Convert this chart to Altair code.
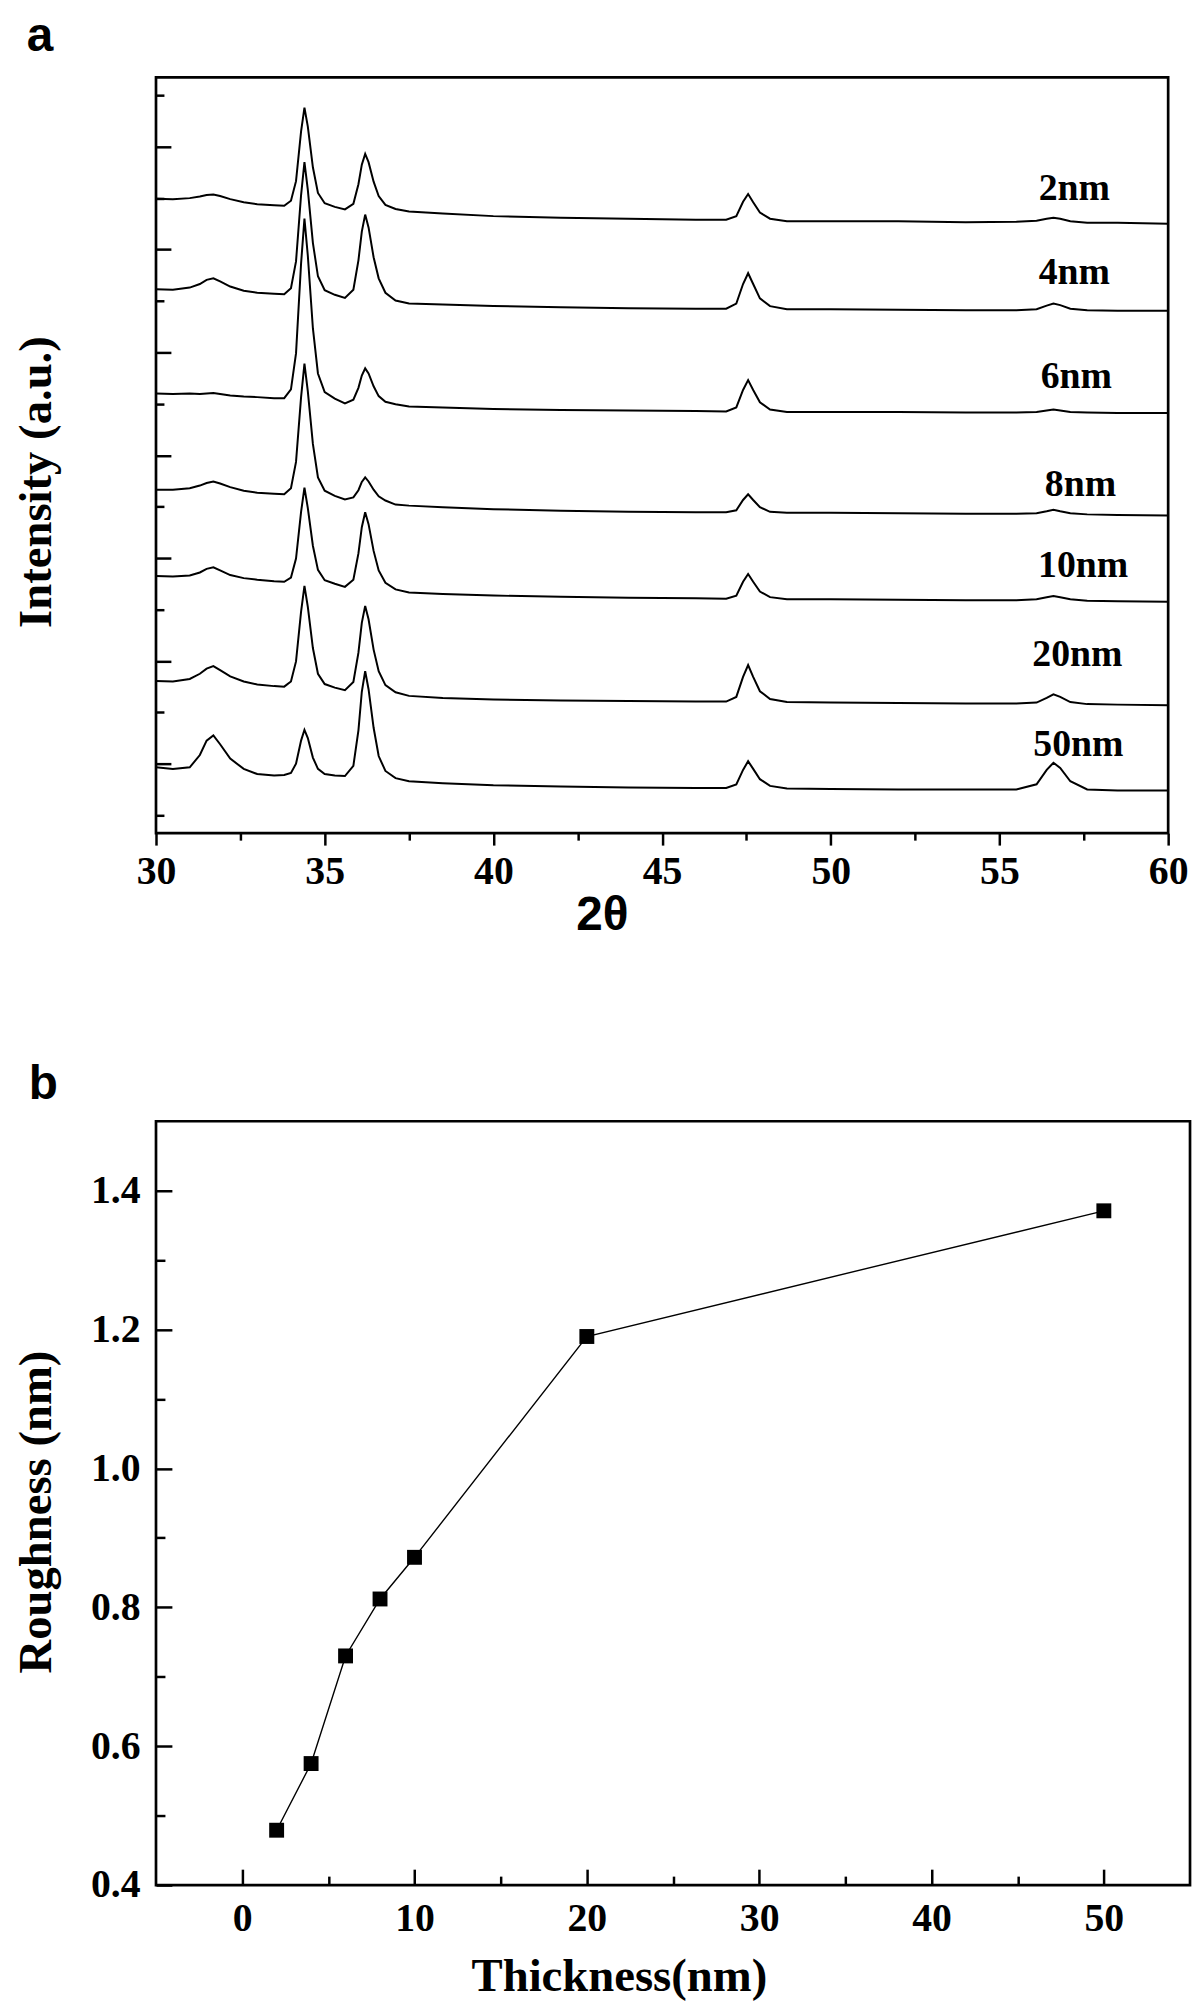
import altair as alt
import pandas as pd

# ---------------- Panel a : XRD patterns ----------------
two_theta = [30.0, 30.5, 31.0, 31.3, 31.5, 31.7, 31.9, 32.2, 32.6, 33.0,
             33.5, 33.8, 34.0, 34.15, 34.3, 34.4, 34.5, 34.65, 34.8, 35.0,
             35.3, 35.6, 35.85, 36.0, 36.1, 36.2, 36.3, 36.45, 36.6, 36.8,
             37.1, 37.5, 38.5, 40.0, 42.0, 44.0, 46.0, 46.9, 47.2, 47.4,
             47.55, 47.7, 47.9, 48.2, 48.7, 50.0, 52.0, 54.0, 55.5, 56.1,
             56.4, 56.6, 56.8, 57.1, 57.6, 58.5, 60.0]

samples = ["2nm", "4nm", "6nm", "8nm", "10nm", "20nm", "50nm"]

i_2nm = [11.99, 11.98, 12.00, 12.03, 12.06, 12.07, 12.04, 11.98, 11.92, 11.88,
         11.86, 11.85, 11.95, 12.33, 13.30, 13.76, 13.39, 12.60, 12.10, 11.90,
         11.83, 11.78, 11.89, 12.27, 12.65, 12.86, 12.70, 12.32, 12.04, 11.87,
         11.79, 11.74, 11.70, 11.65, 11.62, 11.60, 11.58, 11.58, 11.65, 11.93,
         12.08, 11.92, 11.72, 11.60, 11.55, 11.55, 11.55, 11.53, 11.54, 11.56,
         11.60, 11.62, 11.60, 11.55, 11.52, 11.52, 11.50]
i_4nm = [10.23, 10.22, 10.26, 10.33, 10.41, 10.44, 10.38, 10.28, 10.20, 10.16,
         10.14, 10.13, 10.25, 10.77, 12.06, 12.70, 12.16, 11.13, 10.48, 10.21,
         10.12, 10.06, 10.22, 10.79, 11.35, 11.68, 11.43, 10.85, 10.44, 10.16,
         10.01, 9.95, 9.93, 9.90, 9.88, 9.86, 9.85, 9.85, 9.95, 10.33,
         10.54, 10.33, 10.05, 9.90, 9.84, 9.84, 9.83, 9.82, 9.82, 9.84,
         9.91, 9.95, 9.92, 9.85, 9.82, 9.81, 9.81]
i_6nm = [8.20, 8.19, 8.20, 8.19, 8.20, 8.21, 8.19, 8.16, 8.14, 8.13,
         8.11, 8.11, 8.28, 8.98, 10.73, 11.60, 10.88, 9.47, 8.59, 8.23,
         8.10, 8.01, 8.08, 8.31, 8.55, 8.69, 8.59, 8.34, 8.15, 8.04,
         7.99, 7.95, 7.93, 7.90, 7.88, 7.87, 7.86, 7.85, 7.93, 8.27,
         8.46, 8.27, 8.03, 7.89, 7.84, 7.84, 7.84, 7.83, 7.83, 7.84,
         7.87, 7.89, 7.87, 7.84, 7.83, 7.82, 7.82]
i_8nm = [6.33, 6.33, 6.36, 6.41, 6.46, 6.49, 6.45, 6.38, 6.31, 6.27,
         6.25, 6.24, 6.36, 6.87, 8.13, 8.78, 8.24, 7.22, 6.57, 6.31,
         6.21, 6.14, 6.18, 6.32, 6.48, 6.57, 6.49, 6.33, 6.20, 6.12,
         6.04, 6.02, 5.99, 5.95, 5.92, 5.90, 5.89, 5.89, 5.93, 6.13,
         6.24, 6.13, 5.99, 5.90, 5.88, 5.88, 5.87, 5.86, 5.86, 5.87,
         5.91, 5.94, 5.91, 5.87, 5.85, 5.84, 5.83]
i_10nm = [4.65, 4.64, 4.66, 4.72, 4.79, 4.82, 4.76, 4.67, 4.61, 4.58,
          4.55, 4.54, 4.62, 4.99, 5.90, 6.37, 5.97, 5.24, 4.77, 4.57,
          4.50, 4.44, 4.58, 5.09, 5.60, 5.89, 5.66, 5.14, 4.76, 4.52,
          4.39, 4.33, 4.30, 4.27, 4.25, 4.23, 4.22, 4.21, 4.27, 4.54,
          4.69, 4.54, 4.35, 4.24, 4.20, 4.20, 4.19, 4.18, 4.18, 4.20,
          4.24, 4.26, 4.24, 4.20, 4.17, 4.16, 4.15]
i_20nm = [2.61, 2.60, 2.65, 2.75, 2.85, 2.90, 2.82, 2.70, 2.60, 2.54,
          2.51, 2.50, 2.60, 2.99, 3.96, 4.46, 4.05, 3.25, 2.75, 2.55,
          2.48, 2.43, 2.59, 3.16, 3.74, 4.07, 3.81, 3.22, 2.80, 2.53,
          2.39, 2.32, 2.28, 2.25, 2.23, 2.22, 2.21, 2.21, 2.30, 2.69,
          2.92, 2.69, 2.41, 2.26, 2.20, 2.19, 2.18, 2.17, 2.17, 2.19,
          2.28, 2.35, 2.30, 2.20, 2.16, 2.15, 2.14]
i_50nm = [0.93, 0.90, 0.93, 1.17, 1.45, 1.55, 1.38, 1.10, 0.90, 0.80,
          0.77, 0.78, 0.82, 1.00, 1.45, 1.66, 1.50, 1.12, 0.90, 0.80,
          0.77, 0.76, 0.96, 1.65, 2.40, 2.80, 2.45, 1.70, 1.15, 0.86,
          0.72, 0.66, 0.62, 0.58, 0.56, 0.54, 0.53, 0.53, 0.60, 0.88,
          1.05, 0.90, 0.70, 0.57, 0.52, 0.51, 0.50, 0.50, 0.50, 0.60,
          0.88, 1.02, 0.92, 0.66, 0.50, 0.48, 0.48]

curves = [i_2nm, i_4nm, i_6nm, i_8nm, i_10nm, i_20nm, i_50nm]

label_x = [57.22, 57.22, 57.28, 57.40, 57.48, 57.31, 57.34]
label_y = [11.97, 10.33, 8.30, 6.20, 4.63, 2.90, 1.16]

a_major_x = [30, 35, 40, 45, 50, 55, 60]
a_minor_x = [32.5, 37.5, 42.5, 47.5, 52.5, 57.5]
a_major_y = [1, 3, 5, 7, 9, 11, 13]
a_minor_y = [0, 2, 4, 6, 8, 10, 12, 14]

# ---------------- Panel b : roughness ----------------
thickness = [2, 4, 6, 8, 10, 20, 50]
roughness = [0.479, 0.575, 0.730, 0.812, 0.872, 1.19, 1.371]

b_major_x = [0, 10, 20, 30, 40, 50]
b_minor_x = [5, 15, 25, 35, 45]
b_major_y = [0.4, 0.6, 0.8, 1.0, 1.2, 1.4]
b_minor_y = [0.5, 0.7, 0.9, 1.1, 1.3]

# ---------------- tables ----------------
rows = []
for s, vals in zip(samples, curves):
    assert len(vals) == len(two_theta)
    for x, v in zip(two_theta, vals):
        rows.append({"two_theta": x, "intensity": v, "sample": s})
xrd = pd.DataFrame(rows)
labels_df = pd.DataFrame({"x": label_x, "y": label_y, "label": samples})
rough_df = pd.DataFrame({"thickness": thickness, "roughness": roughness})

SERIF = "Liberation Serif"
SANS = "Liberation Sans"

W_A, H_A = 1019, 761
W_B, H_B = 1041, 769

xa = alt.Scale(domain=[30, 60], nice=False, zero=False)
ya = alt.Scale(domain=[-0.35, 14.35], nice=False, zero=False)

common_tick = dict(tickColor="black", tickWidth=2.5, grid=False, domain=False)

lines_a = alt.Chart(xrd).mark_line(color="black", strokeWidth=2.0).encode(
    x=alt.X("two_theta:Q", scale=xa,
            axis=alt.Axis(orient="bottom", values=a_major_x, tickSize=12,
                          labelFont=SERIF, labelFontWeight="bold", labelFontSize=40,
                          labelColor="black", labelBaseline="alphabetic", labelPadding=39,
                          labelFlush=False, labelOverlap=False,
                          title="2θ", titleFont=SANS, titleFontSize=48, titleFontWeight="bold",
                          titleColor="black", titleX=449, titleY=97,
                          titleBaseline="alphabetic", titleAlign="center", **common_tick)),
    y=alt.Y("intensity:Q", scale=ya,
            axis=alt.Axis(orient="left", values=a_major_y, tickSize=15, offset=-15,
                          labels=False,
                          title="Intensity (a.u.)", titleFont=SERIF, titleFontSize=47,
                          titleFontWeight="bold", titleColor="black", titleAngle=270,
                          titleX=-135.5, titleY=407, titleBaseline="middle", titleAlign="center",
                          **common_tick)),
    detail="sample:N",
)

text_a = alt.Chart(labels_df).mark_text(
    font=SERIF, fontWeight="bold", fontSize=38, color="black",
    align="center", baseline="alphabetic"
).encode(
    x=alt.X("x:Q", scale=xa,
            axis=alt.Axis(orient="bottom", values=a_minor_x, tickSize=7,
                          labels=False, title=None, **common_tick)),
    y=alt.Y("y:Q", scale=ya,
            axis=alt.Axis(orient="left", values=a_minor_y, tickSize=8, offset=-8,
                          labels=False, title=None, **common_tick)),
    text="label:N",
)

panel_a = alt.layer(lines_a, text_a).resolve_axis(
    x="independent", y="independent"
).properties(
    width=W_A, height=H_A,
    title=alt.TitleParams("a", anchor="start", frame="group", dx=-130, offset=16,
                          baseline="top", font=SANS, fontSize=48,
                          fontWeight="bold", color="black"),
)

xb = alt.Scale(domain=[-5, 55], nice=False, zero=False)
yb = alt.Scale(domain=[0.4, 1.5], nice=False, zero=False)

line_b = alt.Chart(rough_df).mark_line(color="black", strokeWidth=1.4).encode(
    x=alt.X("thickness:Q", scale=xb,
            axis=alt.Axis(orient="bottom", values=b_major_x, tickSize=16, offset=-16,
                          labelFont=SERIF, labelFontWeight="bold", labelFontSize=40,
                          labelColor="black", labelBaseline="alphabetic", labelPadding=46,
                          labelFlush=False, labelOverlap=False,
                          title="Thickness(nm)", titleFont=SERIF, titleFontSize=47,
                          titleFontWeight="bold", titleColor="black",
                          titleX=466, titleY=122, titleBaseline="alphabetic",
                          titleAlign="center", **common_tick)),
    y=alt.Y("roughness:Q", scale=yb,
            axis=alt.Axis(orient="left", values=b_major_y, format=".1f", tickSize=16,
                          offset=-16, labelFont=SERIF, labelFontWeight="bold",
                          labelFontSize=40, labelColor="black", labelBaseline="middle",
                          labelPadding=16, labelFlush=False, labelOverlap=False,
                          title="Roughness (nm)", titleFont=SERIF, titleFontSize=47,
                          titleFontWeight="bold", titleColor="black", titleAngle=270,
                          titleX=-136.5, titleY=393, titleBaseline="middle",
                          titleAlign="center", **common_tick)),
)

pts_b = alt.Chart(rough_df).mark_square(size=225, color="black", opacity=1).encode(
    x=alt.X("thickness:Q", scale=xb,
            axis=alt.Axis(orient="bottom", values=b_minor_x, tickSize=9, offset=-9,
                          labels=False, title=None, **common_tick)),
    y=alt.Y("roughness:Q", scale=yb,
            axis=alt.Axis(orient="left", values=b_minor_y, tickSize=9, offset=-9,
                          labels=False, title=None, **common_tick)),
)

panel_b = alt.layer(line_b, pts_b).resolve_axis(
    x="independent", y="independent"
).properties(
    width=W_B, height=H_B,
    title=alt.TitleParams("b", anchor="start", frame="group", dx=-128, offset=12,
                          baseline="top", font=SANS, fontSize=48,
                          fontWeight="bold", color="black"),
)

chart = alt.vconcat(panel_a, panel_b, spacing=290, bounds="flush").properties(
    padding={"left": 3, "top": -3, "right": 0, "bottom": 0}
).configure(background="white").configure_view(
    stroke="black", strokeWidth=2.7
)

chart.save("out.html", embed_options={"renderer": "svg", "actions": False})
